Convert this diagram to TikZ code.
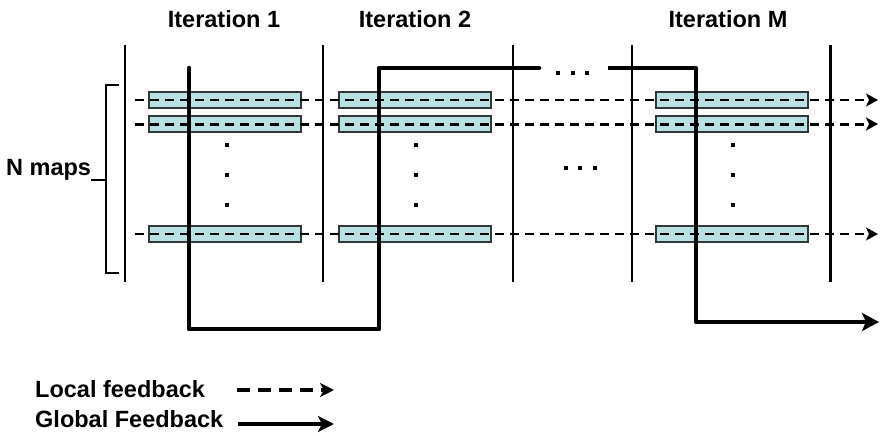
\documentclass[tikz,border=0pt]{standalone}
\usepackage{fontspec}
\setmainfont{Liberation Sans}
\usetikzlibrary{arrows.meta}
\definecolor{boxfill}{RGB}{185,224,227}
\definecolor{boxline}{RGB}{50,55,55}
\tikzset{
  mapbox/.style={draw=boxline, line width=1.6pt, fill=boxfill, minimum width=152pt, minimum height=16pt, inner sep=0pt},
  sep/.style={line width=2pt},
  septhick/.style={line width=3pt},
  dtip/.style={-{Stealth[length=12pt,width=13pt,inset=3pt]}},
  localfb/.style={line width=1.7pt, dash pattern=on 9pt off 6pt, dtip},
  localfbthick/.style={line width=3pt, dash pattern=on 9pt off 6pt, dtip},
  globalfb/.style={line width=4.5pt, line join=round, line cap=round},
  lbl/.style={font=\fontsize{23.5}{28}\selectfont\bfseries, inner sep=0pt},
  dotmark/.style={fill=black, minimum size=3.4pt, inner sep=0pt},
}
\begin{document}
\begin{tikzpicture}[x=1pt,y=-1pt]
\useasboundingbox (0,0) rectangle (881,436);
% titles
\node[lbl, anchor=base] (t1) at (224,28) {Iteration 1};
\node[lbl, anchor=base] (t2) at (415,28) {Iteration 2};
\node[lbl, anchor=base] (tm) at (728,28) {Iteration M};
% separators
\foreach \n/\x in {1/125,2/323,3/513,4/632,5/830}{
  \coordinate (s\n t) at (\x,45);
  \coordinate (s\n b) at (\x,282);
}
\foreach \n in {1,2,3,4}{ \draw[sep] (s\n t) -- (s\n b); }
\draw[septhick] (s5t) -- (s5b);
% bracket
\coordinate (brt) at (119,85);
\coordinate (brtl) at (106,85);
\coordinate (brbl) at (106,273);
\coordinate (brb) at (119,273);
\coordinate (brm) at (106,180);
\draw[line width=2.2pt] (brt) -- (brtl) -- (brbl) -- (brb);
\node[lbl, anchor=base west] (nmaps) at (6,175) {N maps};
\coordinate (nmapsend) at (91,180);
\draw[line width=1.3pt] (nmapsend) -- (brm);
% boxes
\foreach \c/\x in {1/225,2/415,3/732}{
  \node[mapbox] (b\c r1) at (\x,100) {};
  \node[mapbox] (b\c r2) at (\x,124) {};
  \node[mapbox] (b\c r3) at (\x,234) {};
}
% column dots
\foreach \c/\x in {1/227,2/416,3/733}{
  \foreach \y in {145,175,205}{ \node[dotmark] at (\x,\y) {}; }
}
% middle ellipsis
\foreach \x in {566,580,595}{ \node[dotmark] at (\x,168) {}; }
% top ellipsis
\foreach \x in {558,573,587}{ \node[dotmark] at (\x,73) {}; }
% local feedback rows
\coordinate (r1s) at (135,100); \coordinate (r1e) at (878,100);
\coordinate (r2s) at (135,124); \coordinate (r2e) at (878,124);
\coordinate (r3s) at (135,234); \coordinate (r3e) at (878,234);
\draw[localfb] (r1s) -- (r1e);
\draw[localfbthick] (r2s) -- (r2e);
\draw[localfb] (r3s) -- (r3e);
% global feedback
\coordinate (g1) at (189,68);
\coordinate (g2) at (189,329);
\coordinate (g3) at (379,329);
\coordinate (g4) at (379,68);
\coordinate (g5) at (539,68);
\coordinate (g6) at (608,68);
\coordinate (g7) at (696,68);
\coordinate (g8) at (696,322);
\coordinate (g9) at (879,322);
\draw[globalfb] (g1) -- (g2) -- (g3) -- (g4) -- (g5);
\draw[globalfb, line cap=butt, -{Stealth[length=17pt,width=18pt,inset=4pt]}] (g6) -- (g7) -- (g8) -- (g9);
% legend
\node[lbl, anchor=base west] (leg1) at (35,397) {Local feedback};
\node[lbl, anchor=base west] (leg2) at (35,427) {Global Feedback};
\coordinate (l1s) at (237,390); \coordinate (l1e) at (334,390);
\coordinate (l2s) at (238,424); \coordinate (l2e) at (334,424);
\draw[line width=4pt, dash pattern=on 13pt off 8pt, -{Stealth[length=14pt,width=14pt,inset=4pt]}] (l1s) -- (l1e);
\draw[line width=3.5pt, -{Stealth[length=16pt,width=16pt,inset=4pt]}] (l2s) -- (l2e);
\end{tikzpicture}
\end{document}
